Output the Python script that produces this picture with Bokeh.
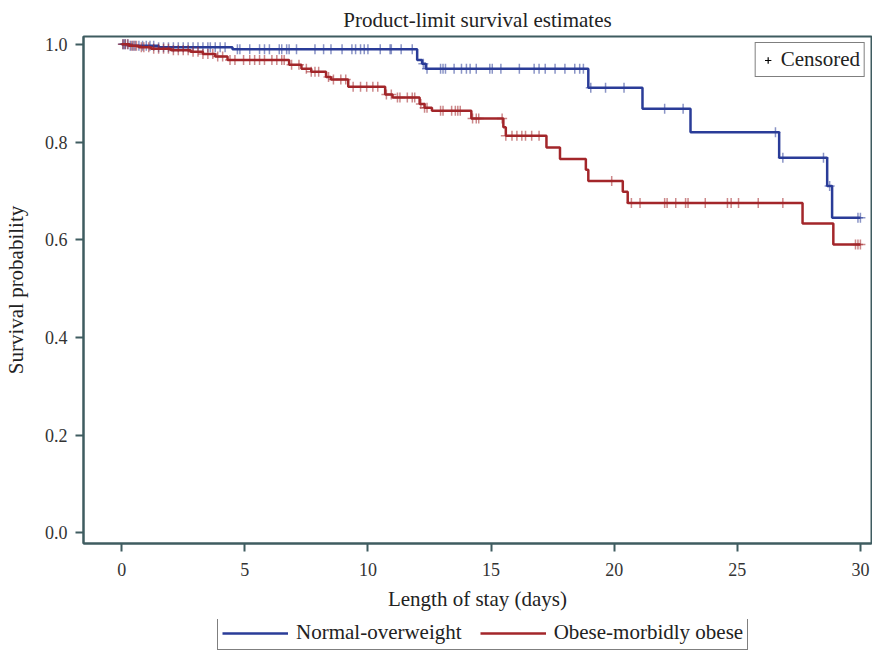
import numpy as np
from bokeh.plotting import figure
from bokeh.layouts import column
from bokeh.models import Range1d, Legend, LegendItem, FixedTicker, NumeralTickFormatter
from bokeh.embed import file_html
from bokeh.resources import INLINE

# ---- data ----
blue_t = [0, 0.3, 1.5, 4.5, 12.0, 12.2, 12.35, 18.95, 21.15, 23.1, 26.7, 28.65, 28.85, 30.0]
blue_s = [1.0, 0.997, 0.994, 0.99, 0.968, 0.96, 0.95, 0.911, 0.868, 0.82, 0.768, 0.71, 0.645, 0.645]

red_t = [0, 0.3, 0.7, 1.2, 2.0, 2.8, 3.3, 3.8, 4.3, 6.8, 7.3, 7.7, 8.3, 8.5, 9.2, 10.7, 11.0,
         12.1, 12.3, 12.6, 14.2, 15.5, 15.6, 17.25, 17.8, 18.85, 18.95, 20.35, 20.55, 27.65, 28.9, 30.0]
red_s = [1.0, 0.997, 0.994, 0.991, 0.988, 0.985, 0.98, 0.975, 0.968, 0.958, 0.95, 0.944, 0.933, 0.928,
         0.913, 0.897, 0.891, 0.878, 0.87, 0.864, 0.848, 0.83, 0.813, 0.789, 0.765, 0.743, 0.72, 0.698,
         0.675, 0.633, 0.59, 0.59]

blue_censored = [0.05, 0.1, 0.15, 0.25, 0.35, 0.45, 0.55, 0.7, 0.85, 1.0, 1.15, 1.3, 1.5, 1.7, 1.9, 2.1,
                 2.3, 2.5, 2.7, 2.9, 3.1, 3.3, 3.5, 3.6, 3.8, 4.0, 4.2, 4.7, 4.8, 5.2, 5.6, 5.8, 6.0, 6.4,
                 6.5, 6.7, 6.8, 7.1, 7.85, 8.2, 8.5, 8.95, 9.35, 9.5, 9.7, 9.85, 10.0, 10.5, 10.9, 10.95,
                 11.35, 11.8, 12.25, 12.4, 12.95, 13.05, 13.15, 13.5, 13.8, 14.0, 14.15, 14.4, 14.95,
                 15.05, 15.4, 16.15, 16.75, 16.95, 17.2, 17.6, 18.0, 18.4, 18.6, 18.75, 19.05, 19.65,
                 20.4, 22.05, 22.8, 26.55, 26.85, 28.5, 28.75, 29.9, 30.0]

red_censored = [0.05, 0.15, 0.25, 0.4, 0.5, 0.6, 0.8, 0.9, 1.1, 1.3, 1.5, 1.7, 1.9, 2.1, 2.3, 2.5, 2.7,
                2.9, 3.1, 3.3, 3.5, 3.7, 3.9, 4.1, 4.4, 4.6, 4.95, 5.2, 5.4, 5.6, 5.8, 6.1, 6.3, 6.5,
                6.6, 6.9, 7.2, 7.5, 7.7, 7.85, 8.0, 8.4, 8.6, 8.9, 9.1, 9.4, 9.7, 9.95, 10.2, 10.4,
                10.75, 10.95, 11.2, 11.3, 11.6, 11.8, 11.9, 12.15, 12.3, 12.4, 12.95, 13.05, 13.4,
                13.55, 13.65, 13.75, 14.25, 14.4, 14.5, 15.45, 15.6, 15.85, 16.05, 16.25, 16.4, 16.65,
                16.95, 19.9, 20.7, 21.05, 22.05, 22.15, 22.5, 22.9, 23.0, 23.7, 24.6, 24.75, 25.05,
                25.85, 26.85, 29.8, 29.9, 30.0]

series_names = ["Normal-overweight", "Obese-morbidly obese"]
x_ticks = [0, 5, 10, 15, 20, 25, 30]
y_ticks = [0.0, 0.2, 0.4, 0.6, 0.8, 1.0]

BLUE = "#2a3c98"
RED = "#a3262a"
AXIS = "#3f5c60"
FONT = "Liberation Serif"


def step_value(ts, ss, c):
    ts = np.asarray(ts)
    ss = np.asarray(ss)
    idx = np.searchsorted(ts, c, side="right") - 1
    return ss[idx]


p = figure(width=872, height=619, output_backend="svg", toolbar_location=None,
           x_range=Range1d(-1.55, 30.45), y_range=Range1d(-0.022, 1.016),
           min_border_left=77, min_border_right=1, min_border_top=35, min_border_bottom=76)

p.title.text = "Product-limit survival estimates"
p.title.align = "center"
p.title.text_font = FONT
p.title.text_font_size = "21px"
p.title.text_font_style = "normal"
p.title.text_color = "#222222"

p.grid.visible = False
p.outline_line_color = AXIS
p.outline_line_width = 2
p.background_fill_color = "white"
p.border_fill_color = "white"

for ax in (p.xaxis[0], p.yaxis[0]):
    ax.axis_line_color = AXIS
    ax.axis_line_width = 2
    ax.major_tick_line_color = AXIS
    ax.major_tick_line_width = 2
    ax.major_tick_out = 8
    ax.major_tick_in = 0
    ax.minor_tick_line_color = None
    ax.major_label_text_font = FONT
    ax.major_label_text_font_size = "18px"
    ax.major_label_text_color = "#333333"
    ax.axis_label_text_font = FONT
    ax.axis_label_text_font_size = "21px"
    ax.axis_label_text_font_style = "normal"
    ax.axis_label_text_color = "#222222"

p.xaxis.ticker = FixedTicker(ticks=x_ticks)
p.yaxis.ticker = FixedTicker(ticks=y_ticks)
p.yaxis.formatter = NumeralTickFormatter(format="0.0")
p.xaxis.axis_label = "Length of stay (days)"
p.yaxis.axis_label = "Survival probability"
p.xaxis.major_label_standoff = 11
p.xaxis.axis_label_standoff = 8
p.yaxis.major_label_standoff = 8
p.yaxis.axis_label_standoff = 14

p.step(blue_t, blue_s, mode="after", line_color=BLUE, line_width=2.5)
p.scatter(blue_censored, step_value(blue_t, blue_s, blue_censored), marker="cross", size=10,
          line_color=BLUE, line_alpha=0.55, line_width=1.5)
p.step(red_t, red_s, mode="after", line_color=RED, line_width=2.5)
p.scatter(red_censored, step_value(red_t, red_s, red_censored), marker="cross", size=10,
          line_color=RED, line_alpha=0.55, line_width=1.5)

# censored legend inside the frame
r_c = p.scatter(blue_censored[-1:], step_value(blue_t, blue_s, blue_censored[-1:]), marker="cross",
                size=16, line_color="black", line_width=1.2, visible=False)
leg_c = Legend(items=[LegendItem(label="Censored", renderers=[r_c])], location="top_right",
               border_line_color="black", border_line_width=1.5,
               label_text_font=FONT, label_text_font_size="21px", label_text_color="#222222",
               glyph_width=16, glyph_height=18, label_height=18, padding=4, spacing=0, margin=6,
               label_standoff=5, background_fill_alpha=1)
p.add_layout(leg_c)

# series legend in a strip below the plot (its data ranges keep the copies out of view)
pl = figure(width=872, height=32, output_backend="svg", toolbar_location=None, title=None,
            x_axis_type=None, y_axis_type=None, min_border=0,
            x_range=Range1d(100, 101), y_range=Range1d(100, 101))
pl.outline_line_color = None
pl.grid.visible = False
lb = pl.step(blue_t, blue_s, mode="after", line_color=BLUE, line_width=2.5)
lr = pl.step(red_t, red_s, mode="after", line_color=RED, line_width=2.5)
leg = Legend(items=[LegendItem(label=series_names[0], renderers=[lb]),
                    LegendItem(label=series_names[1], renderers=[lr])],
             orientation="horizontal", location=(134, 1),
             border_line_color="black", border_line_width=1.5,
             label_text_font=FONT, label_text_font_size="21px", label_text_color="#222222",
             glyph_width=66, glyph_height=18, label_height=18, padding=4, spacing=18, margin=0,
             label_standoff=8)
pl.add_layout(leg)

layout = column(p, pl, spacing=0)
open("out.html", "w").write(file_html(layout, INLINE))
